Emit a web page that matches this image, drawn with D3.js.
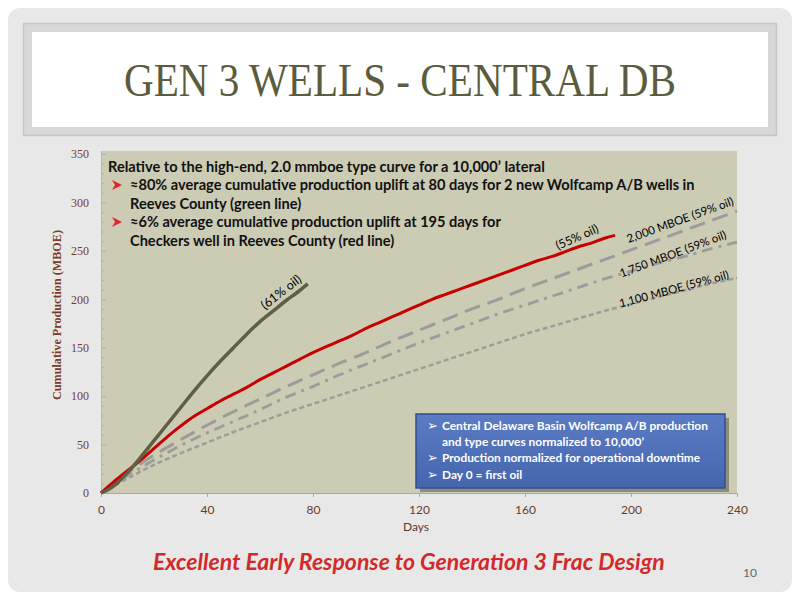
<!DOCTYPE html>
<html><head><meta charset="utf-8">
<script src="https://cdn.jsdelivr.net/npm/d3@7"></script>
<style>html,body{margin:0;padding:0;background:#fff;}svg{display:block;}</style>
</head><body>
<svg id="chart" width="800" height="600"></svg>
<script>
// ---------- DATA ----------
const titleText = "GEN 3 WELLS - CENTRAL DB";
const footerText = "Excellent Early Response to Generation 3 Frac Design";
const pageNumber = "10";
const xTicks = [0, 40, 80, 120, 160, 200, 240];
const yTicks = [0, 50, 100, 150, 200, 250, 300, 350];
const xLabel = "Days";
const yLabel = "Cumulative Production (MBOE)";

const greenDays = [0, 3, 6, 10, 15, 20, 25, 30, 35, 40, 45, 50, 55, 60, 65, 70, 74, 78];
const greenVals = [0, 4, 10, 21, 37, 54, 71, 88, 105, 121, 136, 150, 164, 177, 188, 199, 207, 216];

const redDays = [0, 5, 10, 15, 20, 25, 30, 35, 40, 45, 50, 55, 60, 65, 70, 75, 80, 85, 90, 95, 100, 105, 110, 115, 120, 125, 130, 135, 140, 145, 150, 155, 160, 165, 170, 175, 180, 185, 190, 194];
const redVals = [0, 12, 23, 34, 46, 58, 69, 79, 87, 95, 102, 109, 117, 124, 131, 138, 145, 151, 157, 163, 170, 176, 182, 188, 194, 200, 205, 210, 215, 220, 225, 230, 235, 240, 244, 249, 254, 258, 263, 266];

const typeDays = [0, 10, 20, 30, 40, 50, 60, 70, 80, 90, 100, 110, 120, 130, 140, 150, 160, 170, 180, 190, 200, 210, 220, 230, 240];
const tc2000 = [0, 21, 39, 55, 70, 84, 97, 110, 122, 134, 145, 157, 168, 179, 190, 200, 211, 221, 231, 241, 251, 261, 271, 281, 291];
const tc1750 = [0, 18, 34, 49, 62, 74, 86, 99, 110, 122, 133, 144, 155, 165, 175, 185, 194, 203, 212, 221, 229, 237, 244, 252, 259];
const tc1100 = [0, 15, 29, 41, 52, 63, 73, 83, 92, 101, 110, 119, 128, 137, 146, 155, 164, 172, 180, 188, 195, 202, 209, 216, 222];

const curveLabels = ["(61% oil)", "(55% oil)", "2,000 MBOE (59% oil)", "1,750 MBOE (59% oil)", "1,100 MBOE (59% oil)"];
const noteHeader = "Relative to the high-end, 2.0 mmboe type curve for a 10,000\u2019 lateral";
const noteBullets = [
  ["\u224880% average cumulative production uplift at 80 days for 2 new Wolfcamp A/B wells in", "Reeves County (green line)"],
  ["\u22486% average cumulative production uplift at 195 days for", "Checkers well in Reeves County (red line)"]
];
const boxBullets = [
  ["Central Delaware Basin Wolfcamp A/B production", "and type curves normalized to 10,000\u2019"],
  ["Production normalized for operational downtime"],
  ["Day 0 = first oil"]
];

// ---------- DRAW ----------
const svg = d3.select("#chart");
const defs = svg.append("defs");

function fit(sel, target) {
  const node = sel.node();
  const w = node.getComputedTextLength();
  const fs = parseFloat(sel.attr("font-size"));
  if (w > 0) sel.attr("font-size", (fs * target / w).toFixed(2));
  return sel;
}

// slide panel
svg.append("rect").attr("x", 8).attr("y", 8).attr("width", 784).attr("height", 584)
  .attr("rx", 12).attr("fill", "#e8e8e8");

// title box
svg.append("rect").attr("x", 23.5).attr("y", 23.5).attr("width", 753).attr("height", 112)
  .attr("fill", "#d8d8d8").attr("stroke", "#c6c6c6").attr("stroke-width", 1.5);
svg.append("rect").attr("x", 32).attr("y", 32).attr("width", 736).attr("height", 95)
  .attr("fill", "#ffffff");
svg.append("text").attr("x", 400).attr("y", 96).attr("text-anchor", "middle")
  .attr("font-family", "'Liberation Serif', 'DejaVu Serif', serif").attr("font-size", 46)
  .attr("fill", "#5b5b3d").attr("textLength", 552).attr("lengthAdjust", "spacingAndGlyphs")
  .text(titleText);

// scales
const x = d3.scaleLinear().domain([0, 240]).range([101, 737]);
const y = d3.scaleLinear().domain([0, 350]).range([493, 154]);

// plot background
svg.append("rect").attr("x", x(0)).attr("y", 151).attr("width", x(240) - x(0)).attr("height", y(0) - 151)
  .attr("fill", "#cccbb4");

// y axis minor/major ticks
const yMinor = d3.range(0, 351, 10);
svg.append("g").selectAll("line").data(yMinor).join("line")
  .attr("x1", x(0)).attr("x2", d => x(0) + (d % 50 === 0 ? 5 : 3))
  .attr("y1", d => y(d) + 0.5).attr("y2", d => y(d) + 0.5)
  .attr("stroke", "#b4b3a0").attr("stroke-width", 1);
svg.append("line").attr("x1", x(0) + 0.5).attr("x2", x(0) + 0.5).attr("y1", y(0)).attr("y2", 151)
  .attr("stroke", "#b8b8a8");

const yAxis = d3.axisLeft(y).tickValues(yTicks).tickSize(0).tickPadding(12);
const gy = svg.append("g").attr("transform", `translate(${x(0)},0)`).call(yAxis);
gy.select(".domain").remove();
gy.selectAll("text").attr("font-family", "'Liberation Serif', serif").attr("font-size", 12)
  .attr("fill", "#7a3b2c");

// x axis
const xAxis = d3.axisBottom(x).tickValues(xTicks).tickSize(4).tickPadding(8);
const gx = svg.append("g").attr("transform", `translate(0,${y(0)})`).call(xAxis);
gx.select(".domain").attr("stroke", "#aaa9a0");
gx.selectAll(".tick line").attr("stroke", "#aaa9a0");
gx.selectAll("text").attr("font-family", "'Liberation Sans Narrow', 'Lato', sans-serif").attr("font-size", 12)
  .attr("fill", "#6a3a2c");

svg.append("text").attr("x", 416).attr("y", 531).attr("text-anchor", "middle")
  .attr("font-family", "'Liberation Sans Narrow', 'Lato', sans-serif").attr("font-size", 12)
  .attr("fill", "#5a3a30").text(xLabel);

const yl = svg.append("text").attr("transform", "translate(61,315) rotate(-90)").attr("text-anchor", "middle")
  .attr("font-family", "'Liberation Serif', serif").attr("font-weight", "bold").attr("font-size", 13)
  .attr("fill", "#7a3b2a").text(yLabel);
fit(yl, 170);

// lines
const line = d3.line().x(d => x(d[0])).y(d => y(d[1])).curve(d3.curveCatmullRom.alpha(0.5));
const zip = (a, b) => a.map((v, i) => [v, b[i]]);

svg.append("path").datum(zip(typeDays, tc1100)).attr("d", line).attr("fill", "none")
  .attr("stroke", "#9c9c9a").attr("stroke-width", 2.5).attr("stroke-dasharray", "5,3");
svg.append("path").datum(zip(typeDays, tc1750)).attr("d", line).attr("fill", "none")
  .attr("stroke", "#9c9c9a").attr("stroke-width", 2.8).attr("stroke-dasharray", "11,6,3,6");
svg.append("path").datum(zip(typeDays, tc2000)).attr("d", line).attr("fill", "none")
  .attr("stroke", "#9c9c9a").attr("stroke-width", 3).attr("stroke-dasharray", "16,8");
svg.append("path").datum(zip(redDays, redVals)).attr("d", line).attr("fill", "none")
  .attr("stroke", "#c80000").attr("stroke-width", 3);
svg.append("path").datum(zip(greenDays, greenVals)).attr("d", line).attr("fill", "none")
  .attr("stroke", "#5f5f45").attr("stroke-width", 3.5);

// curve labels
const labelPos = [[281, 292, -38, 12.5], [577, 237, -24, 12], [680, 220, -20, 11.5], [673, 254, -20.5, 11.5], [674, 289, -15, 11.5]];
curveLabels.forEach((t, i) => {
  const [lx, ly, a, fs] = labelPos[i];
  svg.append("text").attr("transform", `translate(${lx},${ly}) rotate(${a})`)
    .attr("text-anchor", "middle").attr("dy", "0.35em")
    .attr("font-family", "Lato, 'Open Sans', sans-serif").attr("font-size", fs)
    .attr("fill", "#000").text(t);
});

// annotation text
const noteFont = "Lato, 'Open Sans', sans-serif";
const h = svg.append("text").attr("x", 108).attr("y", 172).attr("font-family", noteFont)
  .attr("font-weight", "bold").attr("font-size", 13).attr("fill", "#111").text(noteHeader);
fit(h, 437);
const nfs = h.attr("font-size");
function arrow(g, ax, ay, color) {
  g.append("path").attr("d", `M${ax},${ay - 5} L${ax + 10},${ay} L${ax},${ay + 5} L${ax + 3},${ay} Z`)
    .attr("fill", color);
}
let ly0 = 190;
noteBullets.forEach(lines => {
  arrow(svg, 112, ly0 - 5, "#e0262a");
  lines.forEach((t, j) => {
    svg.append("text").attr("x", 130).attr("y", ly0).attr("font-family", noteFont)
      .attr("font-weight", "bold").attr("font-size", nfs).attr("fill", "#111").text(t);
    ly0 += 18.5;
  });
});

// blue info box
const grad = defs.append("linearGradient").attr("id", "bg").attr("x1", 0).attr("y1", 0).attr("x2", 0).attr("y2", 1);
grad.append("stop").attr("offset", "0%").attr("stop-color", "#5b7bc4");
grad.append("stop").attr("offset", "100%").attr("stop-color", "#4565ad");
svg.append("rect").attr("x", 420).attr("y", 418).attr("width", 309).attr("height", 74)
  .attr("fill", "#5a5a50").attr("opacity", 0.55);
svg.append("rect").attr("x", 416).attr("y", 414).attr("width", 309).attr("height", 74)
  .attr("fill", "url(#bg)").attr("stroke", "#2f4f8e").attr("stroke-width", 1.5);
const boxFont = "Lato, 'Open Sans', sans-serif";
let by = 430;
const first = svg.append("text").attr("x", 442).attr("y", by).attr("font-family", boxFont)
  .attr("font-weight", "bold").attr("font-size", 12).attr("fill", "#fff").text(boxBullets[0][0]);
fit(first, 266);
const bfs = first.attr("font-size");
first.remove();
boxBullets.forEach(lines => {
  svg.append("text").attr("x", 427).attr("y", by).attr("font-family", "'DejaVu Sans', sans-serif")
    .attr("font-size", 13).attr("fill", "#fff").text("\u27A2");
  lines.forEach(t => {
    svg.append("text").attr("x", 442).attr("y", by).attr("font-family", boxFont)
      .attr("font-weight", "bold").attr("font-size", bfs).attr("fill", "#fff").text(t);
    by += 16.2;
  });
});

// footer
const ft = svg.append("text").attr("x", 153).attr("y", 570).attr("font-family", "Lato, 'Open Sans', sans-serif")
  .attr("font-style", "italic").attr("font-weight", "bold").attr("font-size", 17)
  .attr("fill", "#d22a2a").text(footerText);
fit(ft, 512);
svg.append("text").attr("x", 743).attr("y", 577).attr("font-family", "Lato, sans-serif")
  .attr("font-size", 12).attr("fill", "#666").text(pageNumber);
</script>
</body></html>
